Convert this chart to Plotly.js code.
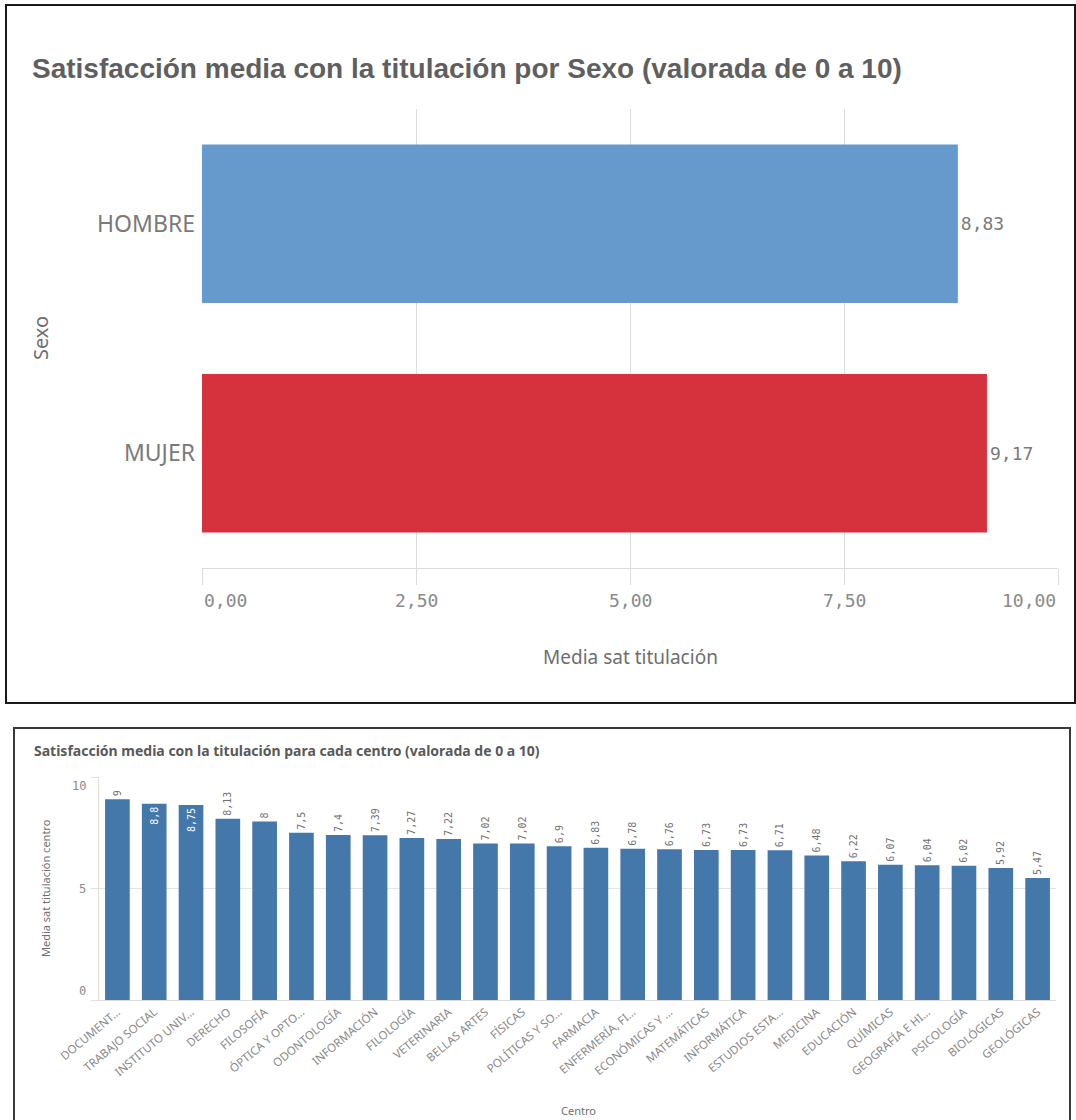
<!DOCTYPE html>
<html>
<head>
<meta charset="utf-8">
<script src="https://cdn.plot.ly/plotly-3.0.1.min.js"></script>
<style>html,body{margin:0;padding:0;background:#fff;}#chart{width:1076px;height:1120px;}</style>
</head>
<body>
<div id="chart"></div>
<script>
// ---------- data ----------
const sexo = ['HOMBRE', 'MUJER'];
const satSexo = [8.83, 9.17];
const sexoColors = ['#6699cc', '#d6323e'];
const xTickVals = [0, 2.5, 5, 7.5, 10];
const xTickText = ['0,00', '2,50', '5,00', '7,50', '10,00'];

const centros = ['DOCUMENT…', 'TRABAJO SOCIAL', 'INSTITUTO UNIV…', 'DERECHO', 'FILOSOFÍA',
  'ÓPTICA Y OPTO…', 'ODONTOLOGÍA', 'INFORMACIÓN', 'FILOLOGÍA', 'VETERINARIA', 'BELLAS ARTES',
  'FÍSICAS', 'POLÍTICAS Y SO…', 'FARMACIA', 'ENFERMERÍA, FI…', 'ECONÓMICAS Y …', 'MATEMÁTICAS',
  'INFORMÁTICA', 'ESTUDIOS ESTA…', 'MEDICINA', 'EDUCACIÓN', 'QUÍMICAS', 'GEOGRAFÍA E HI…',
  'PSICOLOGÍA', 'BIOLÓGICAS', 'GEOLÓGICAS'];
const satCentro = [9, 8.8, 8.75, 8.13, 8, 7.5, 7.4, 7.39, 7.27, 7.22, 7.02, 7.02, 6.9, 6.83,
  6.78, 6.76, 6.73, 6.73, 6.71, 6.48, 6.22, 6.07, 6.04, 6.02, 5.92, 5.47];
const yTickVals2 = [0, 5, 10];
const yTickText2 = ['0', '5', '10'];

// ---------- helpers ----------
const W = 1076, H = 1120;
const px = v => v / W;
const py = v => 1 - v / H;
const comma = s => s.replace('.', ',');
const gray = '#7a7a7a';
const mono = 'DejaVu Sans Mono, monospace';
const sans = 'Noto Sans, Open Sans, sans-serif';

const textSexo = satSexo.map(v => comma(v.toFixed(2)));
const textCentro = satCentro.map(v => comma(String(v)));
const posCentro = satCentro.map((v, i) => (i === 1 || i === 2) ? 'inside' : 'outside');

const traces = [
  {
    type: 'bar', orientation: 'h', x: satSexo, y: sexo,
    xaxis: 'x', yaxis: 'y', width: 0.69,
    marker: {color: sexoColors, line: {width: 0}},
    text: textSexo, textposition: 'outside', cliponaxis: false,
    textfont: {family: mono, size: 18, color: gray},
    hoverinfo: 'x+y', showlegend: false
  },
  {
    type: 'bar', x: centros, y: satCentro,
    xaxis: 'x2', yaxis: 'y2', width: 0.67,
    marker: {color: '#4477aa', line: {width: 0}},
    text: textCentro, textposition: posCentro, textangle: -90,
    insidetextanchor: 'end', constraintext: 'none', cliponaxis: false,
    textfont: {family: mono, size: 10, color: posCentro.map(p => p === 'inside' ? '#ffffff' : '#707070')},
    hoverinfo: 'x+y', showlegend: false
  }
];

const annotations = [];
// top x tick labels (first left aligned, last right aligned, like the original)
xTickVals.forEach((v, i) => {
  annotations.push({
    xref: 'x', yref: 'paper', x: v, y: py(600), showarrow: false,
    xanchor: i === 0 ? 'left' : (i === xTickVals.length - 1 ? 'right' : 'center'),
    yanchor: 'middle', text: xTickText[i],
    font: {family: mono, size: 18, color: '#8a8a8a'}
  });
});
// bottom y tick labels
yTickVals2.forEach((v, i) => {
  annotations.push({
    xref: 'paper', yref: 'y2', x: px(88), y: v, showarrow: false,
    xanchor: 'right',
    yanchor: i === 0 ? 'bottom' : (i === yTickVals2.length - 1 ? 'top' : 'middle'),
    text: yTickText2[i],
    font: {family: mono, size: 12, color: '#8a8a8a'}
  });
});
// axis titles
annotations.push(
  {xref: 'paper', yref: 'paper', x: px(630), y: py(657), showarrow: false, xanchor: 'center', yanchor: 'middle',
   text: 'Media sat titulación', font: {family: sans, size: 19, color: '#6e6e6e'}},
  {xref: 'paper', yref: 'paper', x: px(40), y: py(338), showarrow: false, xanchor: 'center', yanchor: 'middle',
   textangle: -90, text: 'Sexo', font: {family: sans, size: 20, color: '#6e6e6e'}},
  {xref: 'paper', yref: 'paper', x: px(32), y: py(750), showarrow: false, xanchor: 'left', yanchor: 'middle',
   text: '<b>Satisfacción media con la titulación para cada centro (valorada de 0 a 10)</b>',
   font: {family: sans, size: 14, color: '#595959'}},
  {xref: 'paper', yref: 'paper', x: px(578), y: py(1110), showarrow: false, xanchor: 'center', yanchor: 'middle',
   text: 'Centro', font: {family: sans, size: 11, color: '#6e6e6e'}},
  {xref: 'paper', yref: 'paper', x: px(45), y: py(888), showarrow: false, xanchor: 'center', yanchor: 'middle',
   textangle: -90, text: 'Media sat titulación centro', font: {family: sans, size: 11, color: '#6e6e6e'}}
);

const layout = {
  width: W, height: H,
  margin: {l: 0, r: 0, t: 0, b: 0, pad: 0},
  paper_bgcolor: '#ffffff', plot_bgcolor: '#ffffff',
  separators: ',.',
  title: {
    text: '<b>Satisfacción media con la titulación por Sexo (valorada de 0 a 10)</b>',
    x: px(32), xanchor: 'left', xref: 'paper', y: py(68), yanchor: 'middle', yref: 'paper',
    font: {family: 'Liberation Sans Narrow, Arial Narrow, sans-serif', size: 28, color: '#5f5f5f'}
  },
  xaxis: {
    domain: [px(202), px(1058)], anchor: 'y', range: [0, 10],
    tickvals: xTickVals, showticklabels: false,
    ticks: 'outside', ticklen: 16, tickcolor: '#dcdcdc', tickwidth: 1,
    showgrid: true, gridcolor: '#dcdcdc', gridwidth: 1, zeroline: false,
    showline: true, linecolor: '#dcdcdc', linewidth: 1, fixedrange: true
  },
  yaxis: {
    domain: [py(568), py(109)], anchor: 'x', autorange: 'reversed', type: 'category',
    showgrid: false, zeroline: false, showline: false, ticks: '',
    ticklabelstandoff: 6,
    tickfont: {family: sans, size: 23, color: '#7a7a7a'}, fixedrange: true
  },
  xaxis2: {
    domain: [px(99), px(1056)], anchor: 'y2', type: 'category',
    tickangle: -40, ticks: '', showgrid: false, zeroline: false,
    showline: true, linecolor: '#dcdcdc', linewidth: 1,
    tickfont: {family: sans, size: 11.5, color: '#8a8a8a'}, fixedrange: true
  },
  yaxis2: {
    domain: [py(1000), py(777)], anchor: 'x2', range: [0, 10],
    tickvals: yTickVals2, showticklabels: false,
    ticks: 'outside', ticklen: 7, tickcolor: '#e0e0e0',
    showgrid: true, gridcolor: '#e3e3e3', zeroline: false,
    showline: true, linecolor: '#e6dcd0', linewidth: 1, fixedrange: true
  },
  annotations: annotations,
  shapes: [
    {type: 'rect', xref: 'paper', yref: 'paper', x0: px(6), x1: px(1075), y0: py(703), y1: py(5),
     line: {color: '#1a1a1a', width: 2}},
    {type: 'rect', xref: 'paper', yref: 'paper', x0: px(14), x1: px(1070), y0: py(1140), y1: py(728),
     line: {color: '#3a3a3a', width: 2}}
  ]
};

Plotly.newPlot('chart', traces, layout, {displayModeBar: false, staticPlot: true});
</script>
</body>
</html>
